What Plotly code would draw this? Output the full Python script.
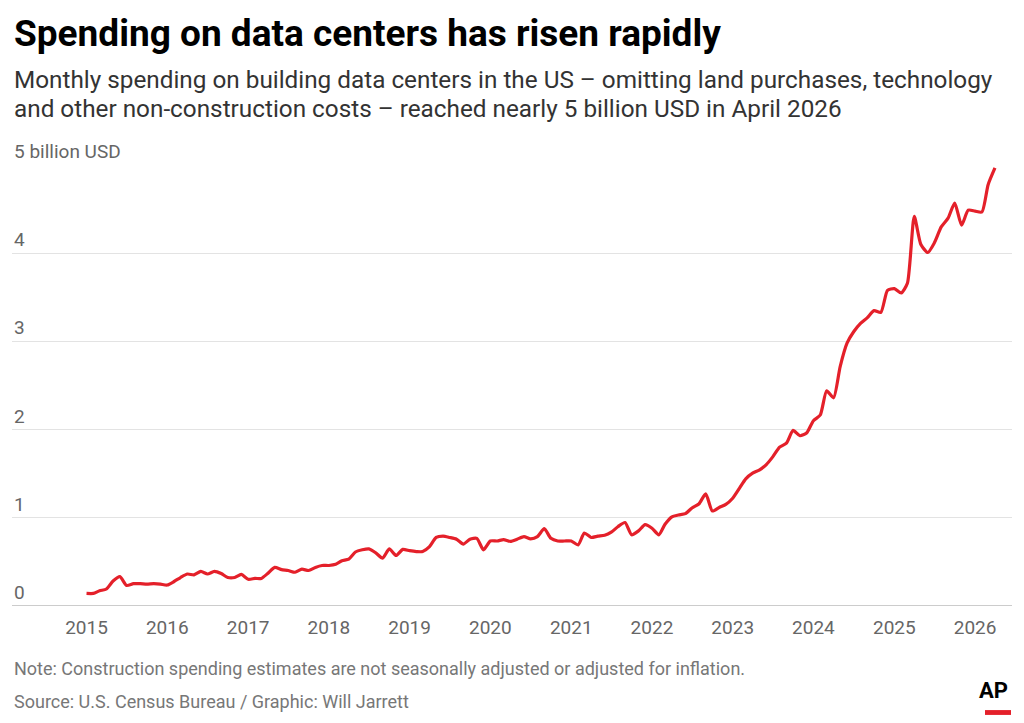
import pandas as pd
import plotly.graph_objects as go

# Monthly spending, billion USD, Jan 2015 - Apr 2026
months = pd.date_range("2015-01-01", "2026-04-01", freq="MS")
values = [
    0.14, 0.14, 0.17, 0.19, 0.28, 0.33, 0.23, 0.25, 0.25, 0.245, 0.25, 0.245,
    0.235, 0.275, 0.32, 0.36, 0.35, 0.39, 0.36, 0.39, 0.365, 0.32, 0.32, 0.355,
    0.30, 0.31, 0.31, 0.37, 0.435, 0.41, 0.40, 0.38, 0.415, 0.40, 0.435, 0.457,
    0.457, 0.47, 0.51, 0.53, 0.61, 0.635, 0.645, 0.60, 0.54, 0.645, 0.57, 0.64,
    0.625, 0.615, 0.615, 0.67, 0.775, 0.79, 0.775, 0.755, 0.70, 0.755, 0.765, 0.635,
    0.735, 0.735, 0.75, 0.73, 0.755, 0.785, 0.76, 0.785, 0.875, 0.765, 0.735, 0.735,
    0.735, 0.69, 0.825, 0.775, 0.79, 0.80, 0.835, 0.90, 0.945, 0.805, 0.85, 0.92,
    0.88, 0.805, 0.925, 1.01, 1.03, 1.045, 1.11, 1.155, 1.27, 1.075, 1.115, 1.15,
    1.22, 1.335, 1.44, 1.505, 1.54, 1.60, 1.69, 1.80, 1.845, 1.99, 1.93, 1.96,
    2.10, 2.165, 2.44, 2.36, 2.715, 2.98, 3.11, 3.205, 3.27, 3.35, 3.33, 3.58,
    3.60, 3.55, 3.66, 4.42, 4.10, 4.01, 4.12, 4.30, 4.40, 4.57, 4.32, 4.49,
    4.48, 4.47, 4.78, 4.97,
]
y_ticks = [0, 1, 2, 3, 4, 5]
y_tick_labels = ["0", "1", "2", "3", "4", "5 billion USD"]
x_tick_years = list(range(2015, 2027))

title = "Spending on data centers has risen rapidly"
subtitle_lines = [
    "Monthly spending on building data centers in the US – omitting land purchases, technology",
    "and other non-construction costs – reached nearly 5 billion USD in April 2026",
]
note = "Note: Construction spending estimates are not seasonally adjusted or adjusted for inflation."
source = "Source: U.S. Census Bureau / Graphic: Will Jarrett"

FONT = "Roboto"
GREY = "#666666"
RED = "#e4202a"

fig = go.Figure()
fig.add_trace(go.Scatter(
    x=months, y=values, mode="lines",
    line=dict(color=RED, width=3.2, shape="spline", smoothing=0.6),
    hoverinfo="x+y", showlegend=False,
))

fig.update_layout(
    width=1024, height=723,
    margin=dict(l=12, r=12, t=165, b=117),
    paper_bgcolor="white", plot_bgcolor="white",
    font=dict(family=FONT, color=GREY),
    xaxis=dict(
        range=["2014-01-29", "2026-06-17"],
        tickvals=[pd.Timestamp(f"{y}-01-01") for y in x_tick_years],
        ticktext=[str(y) for y in x_tick_years],
        showgrid=False, zeroline=False, showline=False,
        ticks="outside", ticklen=4, tickcolor="rgba(0,0,0,0)",
        tickfont=dict(size=19, color=GREY, family=FONT),
        fixedrange=True,
    ),
    yaxis=dict(
        range=[-0.003, 5.003],
        tickvals=y_ticks, showticklabels=False,
        showgrid=True, gridcolor="#e3e3e3", gridwidth=1,
        zeroline=False, showline=False, fixedrange=True,
    ),
)

# Baseline slightly darker
fig.add_shape(type="line", xref="paper", yref="y", x0=0, x1=1, y0=0, y1=0,
              line=dict(color="#cccccc", width=1.5), layer="below")

# y labels above gridlines
for v, lab in zip(y_ticks, y_tick_labels):
    fig.add_annotation(xref="paper", yref="y", x=0, y=v, text=lab,
                       showarrow=False, xanchor="left", yanchor="bottom",
                       yshift=0, font=dict(size=19, color=GREY, family=FONT))

# Title and subtitle (paper y=1 is the plot top, 165 px from the top)
fig.add_annotation(xref="paper", yref="paper", x=0, y=1, yshift=132,
                   text=f"<b>{title}</b>", showarrow=False, xanchor="left", yanchor="middle",
                   font=dict(size=37, color="#000000", family=FONT))
for i, line in enumerate(subtitle_lines):
    fig.add_annotation(xref="paper", yref="paper", x=0, y=1, yshift=86 - 29 * i,
                       text=line, showarrow=False, xanchor="left", yanchor="middle",
                       font=dict(size=24.3, color="#333333", family=FONT))

# Footer (paper y=0 is the plot bottom, 606 px from the top)
fig.add_annotation(xref="paper", yref="paper", x=0, y=0, yshift=-62,
                   text=note, showarrow=False, xanchor="left", yanchor="middle",
                   font=dict(size=18, color="#777777", family=FONT))
fig.add_annotation(xref="paper", yref="paper", x=0, y=0, yshift=-95,
                   text=source, showarrow=False, xanchor="left", yanchor="middle",
                   font=dict(size=18, color="#777777", family=FONT))

# AP logo
fig.add_annotation(xref="paper", yref="paper", x=1, y=0, xshift=-2, yshift=-84,
                   text="<b>AP</b>", showarrow=False, xanchor="right", yanchor="middle",
                   font=dict(size=22, color="#000000", family=FONT))
fig.add_shape(type="rect", xref="paper", yref="paper", x0=0.973, x1=0.999,
              y0=-0.247, y1=-0.236, fillcolor=RED, line=dict(width=0))

fig.write_html("out.html", include_plotlyjs=True, config={"displayModeBar": False})
